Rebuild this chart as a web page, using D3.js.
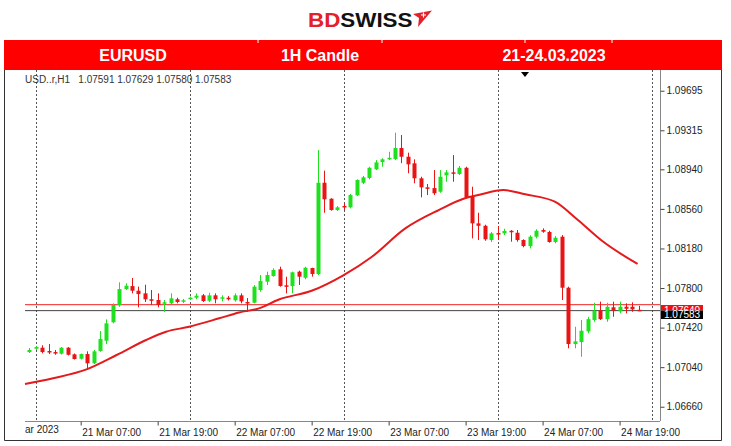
<!DOCTYPE html>
<html><head><meta charset="utf-8">
<script src="https://cdn.jsdelivr.net/npm/d3@7"></script>
<style>
body{margin:0;background:#fff;}
svg{display:block;}
text{font-family:"Liberation Sans",Arial,sans-serif;}
</style>
</head><body>
<svg id="c" width="731" height="446"></svg>
<script>
// ---------------- DATA ----------------
const symbolInfo = "USD..r,H1";
const lastOHLC = ["1.07591", "1.07629", "1.07580", "1.07583"];
const bannerTexts = ["EURUSD", "1H Candle", "21-24.03.2023"];
// hour offsets from 21 Mar 2023 00:00 of each candle
const candleHours = d3.range(-1, 95);
const opens = [1.07185,1.07217,1.07227,1.07195,1.07185,1.07169,1.07227,1.07163,1.07121,1.07166,1.07077,1.07195,1.07294,1.07471,1.07634,1.07790,1.07819,1.07774,1.07749,1.07692,1.07685,1.07649,1.07653,1.07692,1.07669,1.07695,1.07707,1.07730,1.07678,1.07730,1.07697,1.07707,1.07682,1.07730,1.07666,1.07659,1.07781,1.07861,1.07915,1.07980,1.07826,1.07819,1.07957,1.07899,1.07992,1.07935,1.08811,1.08658,1.08549,1.08588,1.08575,1.08690,1.08811,1.08857,1.08940,1.09010,1.09036,1.09039,1.09145,1.09061,1.08998,1.08854,1.08767,1.08760,1.08725,1.08882,1.08911,1.08895,1.08955,1.08677,1.08421,1.08398,1.08261,1.08328,1.08325,1.08350,1.08331,1.08261,1.08203,1.08293,1.08357,1.08338,1.08242,1.08293,1.07803,1.07262,1.07281,1.07384,1.07493,1.07582,1.07501,1.07615,1.07576,1.07620,1.07620,1.07591];
const highs = [1.07224,1.07243,1.07250,1.07262,1.07205,1.07233,1.07233,1.07171,1.07171,1.07192,1.07205,1.07387,1.07499,1.07653,1.07855,1.07845,1.07896,1.07813,1.07832,1.07781,1.07749,1.07685,1.07749,1.07707,1.07695,1.07718,1.07749,1.07742,1.07755,1.07749,1.07730,1.07723,1.07749,1.07749,1.07704,1.07829,1.07925,1.07957,1.07989,1.08005,1.07909,1.07957,1.07967,1.08005,1.07995,1.09125,1.08927,1.08662,1.08588,1.08614,1.08703,1.08844,1.08876,1.08965,1.09029,1.09046,1.09109,1.09292,1.09270,1.09100,1.09036,1.08869,1.08799,1.08933,1.08933,1.08933,1.09077,1.08972,1.08965,1.08773,1.08523,1.08408,1.08338,1.08395,1.08370,1.08357,1.08357,1.08268,1.08307,1.08364,1.08373,1.08350,1.08299,1.08309,1.07813,1.07428,1.07493,1.07524,1.07659,1.07669,1.07659,1.07669,1.07669,1.07653,1.07663,1.07629];
const lows = [1.07176,1.07205,1.07173,1.07166,1.07159,1.07161,1.07152,1.07113,1.07113,1.07032,1.07070,1.07188,1.07262,1.07461,1.07620,1.07781,1.07749,1.07615,1.07666,1.07637,1.07615,1.07570,1.07640,1.07653,1.07656,1.07685,1.07692,1.07666,1.07666,1.07653,1.07672,1.07680,1.07669,1.07653,1.07572,1.07653,1.07765,1.07829,1.07909,1.07813,1.07749,1.07749,1.07829,1.07884,1.07909,1.07925,1.08523,1.08543,1.08540,1.08549,1.08565,1.08684,1.08799,1.08844,1.08933,1.08965,1.09029,1.09029,1.08999,1.08902,1.08806,1.08671,1.08693,1.08693,1.08715,1.08821,1.08821,1.08885,1.08662,1.08277,1.08261,1.08254,1.08242,1.08261,1.08309,1.08245,1.08245,1.08191,1.08181,1.08277,1.08331,1.08235,1.08229,1.07685,1.07221,1.07221,1.07140,1.07365,1.07476,1.07493,1.07476,1.07524,1.07557,1.07557,1.07572,1.07580];
const closes = [1.07205,1.07233,1.07185,1.07183,1.07173,1.07227,1.07159,1.07118,1.07166,1.07077,1.07192,1.07310,1.07461,1.07637,1.07790,1.07822,1.07774,1.07742,1.07692,1.07678,1.07637,1.07663,1.07701,1.07666,1.07682,1.07707,1.07726,1.07675,1.07730,1.07692,1.07711,1.07692,1.07730,1.07672,1.07653,1.07813,1.07867,1.07925,1.07973,1.07819,1.07813,1.07951,1.07909,1.07995,1.07935,1.08811,1.08652,1.08549,1.08575,1.08575,1.08693,1.08837,1.08863,1.08955,1.09007,1.09036,1.09051,1.09145,1.09061,1.08988,1.08854,1.08767,1.08754,1.08710,1.08869,1.08911,1.08902,1.08955,1.08671,1.08421,1.08398,1.08268,1.08325,1.08315,1.08348,1.08338,1.08261,1.08203,1.08293,1.08350,1.08341,1.08242,1.08283,1.07803,1.07262,1.07288,1.07390,1.07501,1.07582,1.07501,1.07620,1.07582,1.07620,1.07601,1.07595,1.07583];
// moving average
const maHours  = [-1.68, 2.7, 7.9, 12.6, 17.2, 20.3, 23.9, 28.6, 31.7, 34.8, 37.9, 43.0, 48.0, 52.4, 57.6, 62.8, 66.9, 69.0, 72.9, 76.3, 80.9, 84.5, 88.1, 93.8];
const maValues = [1.06878,1.06933,1.07019,1.07157,1.07301,1.07380,1.07428,1.07509,1.07565,1.07605,1.07690,1.07774,1.07925,1.08101,1.08373,1.08549,1.08662,1.08693,1.08741,1.08700,1.08629,1.08453,1.08261,1.08031];
const bidPrice = 1.07583;
const askPrice = 1.07640;
const yTickValues = [1.06660,1.07040,1.07420,1.07800,1.08180,1.08560,1.08940,1.09315,1.09695];
const xTickHours = [7, 19, 31, 43, 55, 67, 79, 91];
const xTickLabels = ["21 Mar 07:00","21 Mar 19:00","22 Mar 07:00","22 Mar 19:00","23 Mar 07:00","23 Mar 19:00","24 Mar 07:00","24 Mar 19:00"];
const firstDateLabel = "ar 2023";
const separatorHours = [0, 24, 48, 72, 96];

// ---------------- LAYOUT ----------------
const svg = d3.select("#c");
const L = 25, R = 660, T = 70, B = 421;
const x = d3.scaleLinear().domain([-1.68, 97.3]).range([L, R]);
const y = d3.scaleLinear().domain([1.06523, 1.09894]).range([B, T]);
const GREEN = "#1fe01f", RED = "#ea1414";

svg.append("rect").attr("width", 731).attr("height", 446).attr("fill", "#fff");

// logo
const logo = svg.append("g").attr("transform", "translate(308,27) scale(1.12,1)");
const lt = logo.append("text").attr("font-size", 20).attr("font-weight", "bold");
lt.append("tspan").attr("fill", "#e3212b").text("BD");
lt.append("tspan").attr("fill", "#111").text("SWISS");
svg.append("path").attr("d", "M413,14 L432,10.5 L418,27 L419,18 Z").attr("fill", "#e3212b");
svg.append("path").attr("d", "M423.5,12.5 v5 M421,15 h5").attr("stroke", "#fff").attr("stroke-width", 1.2);

// banner
svg.append("rect").attr("x", 4).attr("y", 40).attr("width", 718).attr("height", 30).attr("fill", "#ff0000");
[258, 382, 525, 612].forEach(d => svg.append("line").attr("x1", d).attr("x2", d).attr("y1", 40).attr("y2", 43).attr("stroke", "#fff").attr("stroke-width", 1));
const bannerX = [133, 320, 554];
bannerTexts.forEach((t, i) => svg.append("text").attr("x", bannerX[i]).attr("y", 61).attr("text-anchor", "middle")
  .attr("fill", "#fff").attr("font-size", 16).attr("font-weight", "bold").text(t));

// frame
svg.append("path").attr("d", "M4.5,70 V440.5 H721.5 V70").attr("fill", "none").attr("stroke", "#333").attr("stroke-width", 1);

// separators
svg.append("g").selectAll("line").data(separatorHours).join("line")
  .attr("x1", d => Math.round(x(d)) + 0.5).attr("x2", d => Math.round(x(d)) + 0.5)
  .attr("y1", T).attr("y2", B)
  .attr("stroke", "#555").attr("stroke-width", 1).attr("stroke-dasharray", "2,2");

// header info
svg.append("text").attr("x", 25).attr("y", 83).attr("font-size", 10).attr("fill", "#333")
  .style("white-space", "pre").text(symbolInfo + "   " + lastOHLC.join(" "));

// shift marker
svg.append("path").attr("d", "M521,72 L529,72 L525,77 Z").attr("fill", "#000");

// price lines
svg.append("line").attr("x1", L).attr("x2", R).attr("y1", y(askPrice)).attr("y2", y(askPrice)).attr("stroke", "#f02020").attr("stroke-width", 1);
svg.append("line").attr("x1", L).attr("x2", R).attr("y1", y(bidPrice)).attr("y2", y(bidPrice)).attr("stroke", "#444").attr("stroke-width", 1);

// moving average
svg.append("path").datum(maHours.map((h, i) => [h, maValues[i]]))
  .attr("d", d3.line().x(d => x(d[0])).y(d => y(d[1])).curve(d3.curveMonotoneX))
  .attr("fill", "none").attr("stroke", "#e41a1c").attr("stroke-width", 2);

// candles
const candles = candleHours.map((h, i) => ({h, o: opens[i], hi: highs[i], lo: lows[i], c: closes[i]}));
const cg = svg.append("g");
cg.selectAll("line").data(candles).join("line")
  .attr("x1", d => Math.round(x(d.h)) + 0.5).attr("x2", d => Math.round(x(d.h)) + 0.5)
  .attr("y1", d => y(d.hi)).attr("y2", d => y(d.lo))
  .attr("stroke", d => d.c >= d.o ? GREEN : RED).attr("stroke-width", 1);
cg.selectAll("rect").data(candles).join("rect")
  .attr("x", d => Math.round(x(d.h)) - 1.5).attr("width", 4)
  .attr("y", d => y(Math.max(d.o, d.c)))
  .attr("height", d => Math.max(1.5, Math.abs(y(d.o) - y(d.c))))
  .attr("fill", d => d.c >= d.o ? GREEN : RED);

// axes
const yAxis = svg.append("g").attr("transform", `translate(${R + 0.5},0)`)
  .call(d3.axisRight(y).tickValues(yTickValues).tickFormat(d3.format(".5f")).tickSize(4).tickPadding(2));
yAxis.select(".domain").attr("d", `M0,${T}V${B}`).attr("stroke", "#888");
yAxis.selectAll(".tick line").attr("stroke", "#444");
yAxis.selectAll("text").attr("font-size", 10).attr("fill", "#222").attr("font-family", "Liberation Sans, Arial, sans-serif");

const xAxis = svg.append("g").attr("transform", `translate(0,${B + 0.5})`)
  .call(d3.axisBottom(x).tickValues(xTickHours).tickFormat((d, i) => xTickLabels[i]).tickSize(4).tickPadding(3));
xAxis.select(".domain").attr("d", `M${L},0H${R}`).attr("stroke", "#888");
xAxis.selectAll(".tick line").attr("stroke", "#444");
xAxis.selectAll("text").attr("font-size", 10).attr("fill", "#222").attr("text-anchor", "start").attr("dx", 1)
  .attr("font-family", "Liberation Sans, Arial, sans-serif");
svg.append("text").attr("x", 25).attr("y", 433).attr("font-size", 10).attr("fill", "#222").text(firstDateLabel);

// price labels (ask label mostly hidden behind bid label, as in the terminal)
svg.append("defs").append("clipPath").attr("id", "askclip")
  .append("rect").attr("x", 661).attr("y", 305).attr("width", 42).attr("height", 5.5);
const ask = svg.append("g").attr("clip-path", "url(#askclip)");
ask.append("rect").attr("x", 661).attr("y", 305).attr("width", 42).attr("height", 10).attr("fill", "#f01010");
ask.append("text").attr("x", 664).attr("y", 313.5).attr("font-size", 10).attr("fill", "#fff").text(d3.format(".5f")(askPrice));
svg.append("rect").attr("x", 661).attr("y", 310.5).attr("width", 42).attr("height", 8.5).attr("fill", "#000");
svg.append("text").attr("x", 664).attr("y", 318).attr("font-size", 10).attr("fill", "#fff").text(d3.format(".5f")(bidPrice));
</script>
</body></html>
